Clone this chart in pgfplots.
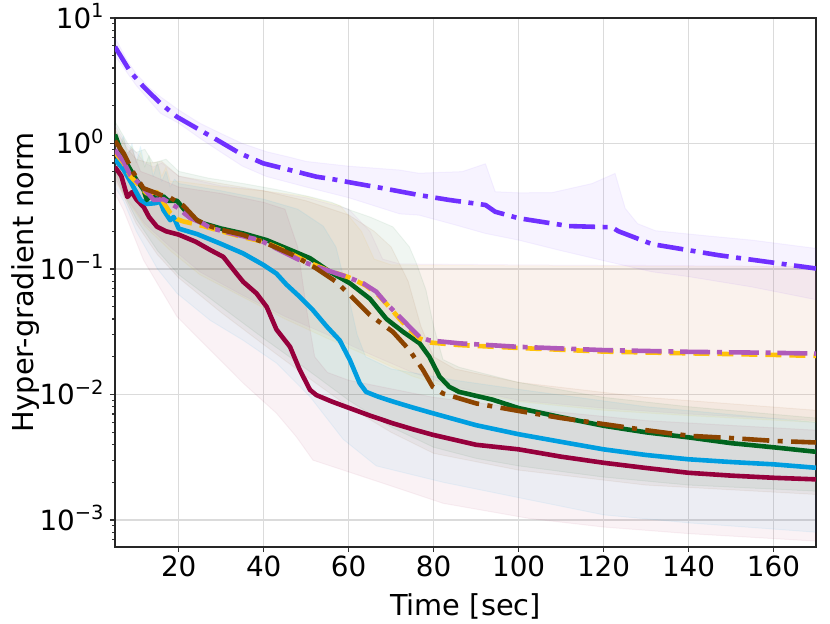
\documentclass[border=0pt]{standalone}
\usepackage{pgfplots}
\pgfplotsset{compat=1.18}
\usepackage{fontspec}
\setmainfont{DejaVu Sans}
\definecolor{cpurple}{RGB}{112,48,255}
\definecolor{cyellow}{RGB}{255,194,10}
\definecolor{cmagenta}{RGB}{176,90,186}
\definecolor{cbrown}{RGB}{140,68,0}
\definecolor{cgreen}{RGB}{0,100,30}
\definecolor{ccyan}{RGB}{0,158,224}
\definecolor{ccrimson}{RGB}{150,0,60}
\begin{document}
\begin{tikzpicture}
\path[use as bounding box] (0,0) rectangle (415pt,311.5pt);
\begin{axis}[
  at={(57.5pt,38pt)}, anchor=south west,
  scale only axis, width=350.5pt, height=264.5pt,
  ymode=log, log basis y=10,
  xmin=5, xmax=170, ymin=6.1e-4, ymax=10,
  xtick={20,40,60,80,100,120,140,160},
  ytick={0.001,0.01,0.1,1,10},
  yticklabels={10\textsuperscript{−3},10\textsuperscript{−2},10\textsuperscript{−1},10\textsuperscript{0},10\textsuperscript{1}},
  minor ytick={0.0007,0.0008,0.0009,0.002,0.003,0.004,0.005,0.006,0.007,0.008,0.009,0.02,0.03,0.04,0.05,0.06,0.07,0.08,0.09,0.2,0.3,0.4,0.5,0.6,0.7,0.8,0.9,2,3,4,5,6,7,8,9},
  /pgf/number format/assume math mode=true,
  tick align=outside, tick pos=left,
  major tick length=2.5pt, minor tick length=1.4pt,
  every tick/.style={black!80, line width=0.6pt},
  axis line style={black!85, line width=0.8pt},
  grid=major, major grid style={black!14, line width=0.6pt},
  ticklabel style={font=\fontsize{13.9}{16}\selectfont},
  xticklabel style={anchor=base, inner sep=0pt, yshift=-12.3pt},
  yticklabel style={anchor=base east, inner sep=0pt, xshift=-2.5pt, yshift=-5pt},
  xlabel={Time [sec]}, ylabel={Hyper-gradient norm},
  label style={font=\fontsize{14.4}{17}\selectfont},
  xlabel style={at={(axis description cs:0.5,0)}, anchor=base, inner sep=0pt, yshift=-34pt},
  ylabel style={at={(axis description cs:-0.1156,0.5)}, anchor=base, inner sep=0pt},
  every axis plot/.append style={line join=round},
]
% ---------------- bands ----------------
\addplot[fill=cpurple, fill opacity=0.06, draw=cpurple, draw opacity=0.06, line width=0.5pt, forget plot] coordinates {
(5,7.0) (8,4.5) (10,3.6) (13,2.8) (15.7,2.36) (20,1.85) (25,1.45) (30,1.2) (35,1.0) (40.7,0.86) (46,0.78) (50,0.72) (60,0.66) (72,0.615) (76.5,0.58) (86.7,0.597) (92.2,0.69) (94.5,0.413) (100,0.405) (107.8,0.406) (117.3,0.48) (122.7,0.578) (125.1,0.304) (128,0.23) (132.2,0.202) (145,0.183) (154.9,0.17) (170,0.146)
(170,0.057) (154.9,0.072) (140,0.087) (131.4,0.095) (122.7,0.111) (110,0.14) (100,0.17) (92.2,0.192) (85,0.225) (76.5,0.269) (72,0.275) (60,0.37) (50,0.45) (40.7,0.545) (35,0.66) (30,0.85) (25,1.1) (20,1.45) (15.7,1.74) (10,2.9) (5,5.0)
} -- cycle;
\addplot[fill=cyellow, fill opacity=0.06, draw=cyellow, draw opacity=0.06, line width=0.5pt, forget plot] coordinates {
(5,1.3) (6,0.9) (7,1.1) (8,0.8) (9,0.95) (10,0.7) (11,0.85) (12,0.65) (13,0.8) (14,0.6) (15,0.7) (16,0.55) (17,0.65) (18,0.5) (20,0.5) (30,0.45) (40,0.42) (50,0.38) (58,0.32) (63,0.2) (66,0.12) (70,0.108) (100,0.106) (130,0.105) (170,0.104)
(170,0.006) (140,0.0068) (120,0.0075) (100,0.0088) (85,0.011) (75,0.014) (65,0.02) (55,0.028) (45,0.04) (35,0.06) (25,0.09) (18,0.14) (12,0.22) (8,0.35) (5,0.5)
} -- cycle;
\addplot[fill=cmagenta, fill opacity=0.06, draw=cmagenta, draw opacity=0.06, line width=0.5pt, forget plot] coordinates {
(5,1.4) (8,0.95) (10,0.85) (12,0.7) (14,0.65) (16,0.7) (20,0.55) (30,0.46) (40,0.42) (50,0.37) (60,0.3) (65,0.2) (68,0.12) (72,0.11) (100,0.108) (170,0.105)
(170,0.0062) (140,0.007) (120,0.0078) (100,0.009) (85,0.0115) (75,0.015) (65,0.021) (55,0.03) (45,0.042) (35,0.062) (25,0.095) (18,0.15) (12,0.23) (8,0.36) (5,0.52)
} -- cycle;
\addplot[fill=cgreen, fill opacity=0.06, draw=cgreen, draw opacity=0.06, line width=0.5pt, forget plot] coordinates {
(5,1.5) (8,1.0) (10,0.85) (12,0.9) (14,0.7) (17,0.75) (20,0.6) (27,0.53) (35.2,0.48) (43,0.43) (50.9,0.377) (56,0.34) (60.3,0.295) (65,0.26) (70.4,0.217) (74.3,0.15) (76,0.11) (78.2,0.068) (80,0.035) (82.2,0.019) (86,0.0165) (100,0.0125) (120,0.0095) (140,0.008) (170,0.0065)
(170,0.0017) (140,0.0019) (120,0.0022) (100,0.0027) (90,0.0031) (80,0.0038) (70,0.0055) (60,0.009) (50,0.016) (40,0.028) (30,0.05) (20,0.09) (15,0.14) (10,0.25) (7,0.4) (5,0.6)
} -- cycle;
\addplot[fill=cbrown, fill opacity=0.06, draw=cbrown, draw opacity=0.06, line width=0.5pt, forget plot] coordinates {
(5,1.3) (8,0.9) (10,0.75) (13,0.7) (16,0.72) (20,0.55) (30,0.48) (40,0.42) (50,0.35) (60,0.27) (66,0.2) (70,0.15) (74,0.08) (77,0.035) (80,0.02) (85,0.016) (100,0.0125) (130,0.0095) (170,0.0075)
(170,0.0016) (130,0.0019) (100,0.0025) (80,0.0034) (70,0.005) (60,0.008) (50,0.014) (40,0.025) (30,0.045) (20,0.085) (15,0.13) (10,0.23) (7,0.38) (5,0.55)
} -- cycle;
\addplot[fill=ccyan, fill opacity=0.06, draw=ccyan, draw opacity=0.06, line width=0.5pt, forget plot] coordinates {
(5,1.1) (6,0.95) (7,1.15) (8,0.8) (9,1.0) (10,0.7) (11,0.95) (12,0.65) (13,0.8) (14,0.55) (15,0.7) (16,0.5) (17,0.6) (18,0.45) (19,0.52) (20,0.48) (30,0.42) (40,0.36) (48,0.3) (54,0.22) (57,0.15) (60,0.06) (62,0.03) (64,0.02) (70,0.016) (85,0.013) (100,0.011) (130,0.008) (170,0.006)
(170,0.0008) (140,0.00095) (120,0.0011) (102.5,0.00145) (82.2,0.002) (66.5,0.0027) (58.7,0.0044) (50.9,0.0096) (43,0.0178) (35.2,0.027) (27.4,0.039) (19.6,0.064) (15,0.1) (10,0.2) (7,0.35) (5,0.45)
} -- cycle;
\addplot[fill=ccrimson, fill opacity=0.05, draw=ccrimson, draw opacity=0.05, line width=0.5pt, forget plot] coordinates {
(5,1.0) (7,0.8) (9,0.9) (11,0.6) (14,0.55) (20,0.45) (30,0.4) (40,0.34) (45,0.3) (48,0.15) (50,0.05) (52,0.02) (55,0.015) (60,0.013) (80,0.0095) (100,0.0078) (130,0.0062) (170,0.0052)
(170,0.00068) (140,0.00078) (120,0.00088) (102.5,0.00103) (82.2,0.00136) (70.4,0.00185) (58.7,0.0025) (51.6,0.003) (47.7,0.0046) (43,0.0071) (35.2,0.0123) (27.4,0.0226) (19.6,0.0417) (11.7,0.118) (7,0.295) (5,0.4)
} -- cycle;
% ---------------- lines ----------------
\addplot[ccrimson, line width=2.3pt] coordinates {
(5,0.65) (6.5,0.55) (7.9,0.375) (9,0.41) (10,0.36) (11.8,0.31) (13,0.26) (14.9,0.217) (17,0.2) (20,0.188) (24,0.165) (27.4,0.142) (30.5,0.125) (33.6,0.092) (35.2,0.079) (38.3,0.064) (40.7,0.05) (43,0.033) (46.2,0.024) (48.5,0.0157) (50.9,0.0109) (52.4,0.0099) (56,0.0088) (60.2,0.0078) (65,0.0068) (70.4,0.0059) (75,0.0053) (79.8,0.00478) (90,0.00398) (100,0.00366) (110,0.0032) (120,0.00286) (130,0.0026) (140,0.00238) (150,0.00226) (160.3,0.00217) (170,0.00211)
};
\addplot[ccyan, line width=2.3pt] coordinates {
(5,0.75) (7,0.62) (8.6,0.5) (11,0.355) (12.5,0.33) (14.5,0.335) (15.7,0.344) (16.4,0.295) (18,0.245) (18.8,0.26) (20,0.21) (24.3,0.19) (29.7,0.16) (35.2,0.133) (39.9,0.108) (43,0.092) (45.4,0.075) (48.5,0.06) (51.6,0.047) (54.8,0.035) (57.9,0.027) (60.3,0.0188) (62.6,0.0123) (64.1,0.0105) (67,0.0096) (70.4,0.0088) (75,0.0079) (79.8,0.0071) (90,0.0057) (100,0.00483) (110,0.0042) (120,0.00366) (130,0.0033) (140,0.00305) (150,0.0029) (160,0.00278) (170,0.00261)
};
\addplot[cgreen, line width=2.3pt] coordinates {
(5,1.18) (6.3,0.89) (7.8,0.69) (10.1,0.51) (11.7,0.43) (12.5,0.355) (13.3,0.39) (14.9,0.36) (16.4,0.38) (17.5,0.35) (19.6,0.35) (22.7,0.26) (25.8,0.231) (30,0.21) (35.2,0.192) (40.7,0.17) (45.4,0.146) (50.9,0.122) (55.6,0.095) (60.3,0.077) (65,0.058) (68.9,0.040) (72.8,0.0316) (76.7,0.0256) (79,0.020) (81.4,0.0139) (83.7,0.0115) (86,0.0105) (93.9,0.0091) (100,0.0078) (110,0.0066) (120,0.00564) (130,0.005) (140.2,0.00455) (150,0.0041) (160.3,0.00379) (170,0.0035)
};
\addplot[cyellow, line width=2.3pt, line cap=butt, dash pattern=on 8pt off 4pt] coordinates {
(5,0.85) (7,0.7) (8.6,0.55) (11,0.45) (12.5,0.4) (14.9,0.41) (16.4,0.34) (18,0.28) (19.6,0.25) (21,0.24) (25.8,0.22) (30,0.2) (35,0.18) (40,0.165) (45,0.14) (50,0.115) (55,0.098) (60,0.086) (64,0.074) (67,0.062) (70,0.048) (72,0.040) (74.3,0.033) (76.7,0.028) (79,0.026) (86,0.0248) (100,0.0235) (120,0.022) (140,0.0213) (160,0.0207) (170,0.0203)
};
\addplot[cmagenta, line width=2.3pt, line cap=butt, dash pattern=on 15pt off 3.4pt on 2.5pt off 3.4pt] coordinates {
(5,0.89) (7,0.72) (8.6,0.56) (11,0.47) (12.5,0.41) (14.1,0.355) (16.4,0.36) (19.6,0.31) (22.7,0.255) (25.8,0.23) (27.4,0.213) (33,0.19) (39.1,0.17) (44,0.14) (49.3,0.114) (54.8,0.098) (59.5,0.087) (63.4,0.077) (66.5,0.066) (68.9,0.053) (72,0.0417) (74.3,0.0347) (76.7,0.0288) (79,0.027) (86,0.0256) (100,0.024) (120,0.0226) (140,0.0219) (160,0.0215) (170,0.0212)
};
\addplot[cbrown, line width=2.3pt, line cap=butt, dash pattern=on 13.5pt off 4.2pt on 2.5pt off 4.2pt] coordinates {
(5,1.05) (7,0.84) (9.4,0.58) (11.7,0.44) (14.1,0.41) (15.7,0.39) (18,0.37) (21.1,0.32) (24.3,0.245) (26.6,0.224) (30,0.205) (35.2,0.187) (40.7,0.16) (47,0.129) (52.4,0.101) (57.1,0.079) (60.3,0.062) (65,0.043) (70.4,0.0316) (74.3,0.0226) (77.5,0.0157) (79.8,0.0115) (82.2,0.0102) (90,0.0085) (100,0.0074) (110,0.0065) (120,0.00582) (130,0.0052) (140.2,0.00469) (150,0.0045) (160.3,0.00427) (170,0.00415)
};
\addplot[cpurple, line width=2.3pt, line cap=butt, dash pattern=on 13pt off 3.75pt on 2.5pt off 3.75pt] coordinates {
(5,5.9) (8.6,3.73) (11.7,2.84) (15.7,2.09) (19.6,1.63) (25,1.28) (29,1.07) (34.4,0.835) (39.9,0.695) (46.2,0.615) (52.4,0.544) (56.2,0.52) (61.8,0.48) (68.1,0.44) (76.5,0.389) (83.7,0.355) (92.2,0.324) (94.5,0.286) (100,0.254) (111.8,0.22) (122,0.215) (123.5,0.2) (131.4,0.158) (147,0.129) (160.3,0.112) (170,0.101)
};
\end{axis}
\end{tikzpicture}
\end{document}
